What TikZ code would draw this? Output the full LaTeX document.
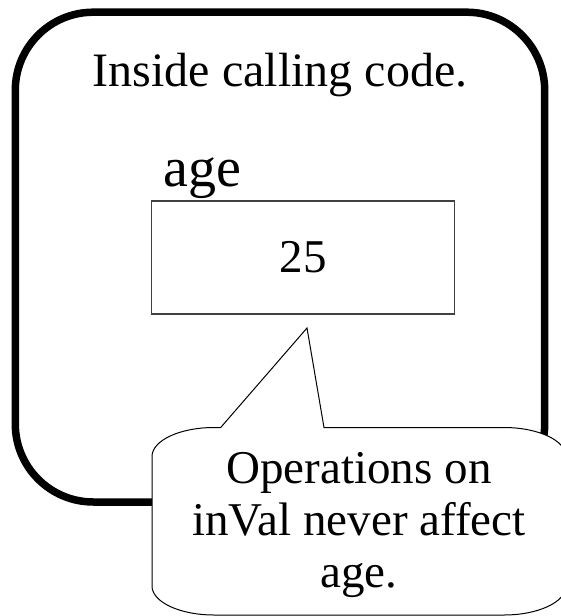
\documentclass[tikz,border=0pt]{standalone}
\usepackage{fontspec}
\setmainfont{Liberation Serif}
\begin{document}
\begin{tikzpicture}[x=1pt,y=-1pt,
  outerframe/.style={draw=black,line width=7.5pt,rounded corners=78pt},
  valbox/.style={draw=black!75,line width=1.1pt,inner sep=0pt,minimum width=302.6pt,minimum height=113pt},
  calloutshape/.style={draw=black,fill=white,line width=1pt,line join=miter},
  bigtext/.style={font=\fontsize{48}{52}\selectfont,inner sep=0pt},
  labeltext/.style={font=\fontsize{56}{60}\selectfont,inner sep=0pt},
  callouttext/.style={font=\fontsize{47}{52}\selectfont,align=center,inner sep=0pt}]
\useasboundingbox (0,0) rectangle (560,616);
% outer frame
\draw[outerframe] (15.3,12.2) rectangle (544.7,502);
% title
\node[bigtext,anchor=base] (title) at (280,86.7) {Inside calling code.};
% variable box
\node[valbox] (agebox) at (303,257.5) {};
\node[bigtext,font=\fontsize{47}{52}\selectfont] (val) at (agebox.center) {25};
\node[labeltext,anchor=base west] (agelabel) at (163.5,186) {age};
% callout
\coordinate (tip) at (307,328);
\draw[calloutshape] (220.7,427.5) -- (tip) -- (324,427.5) -- (504,427.5)
  .. controls (538.2,427.5) and (566,440.5) .. (566,456.5) -- (566,586)
  .. controls (566,602) and (538.2,615) .. (504,615) -- (214,615)
  .. controls (179.8,615) and (152,602) .. (152,586) -- (152,456.5)
  .. controls (152,440.5) and (179.8,427.5) .. (214,427.5) -- cycle;
\node[callouttext] (note) at (359,525) {Operations on\\inVal never affect\\age.};
\end{tikzpicture}
\end{document}
